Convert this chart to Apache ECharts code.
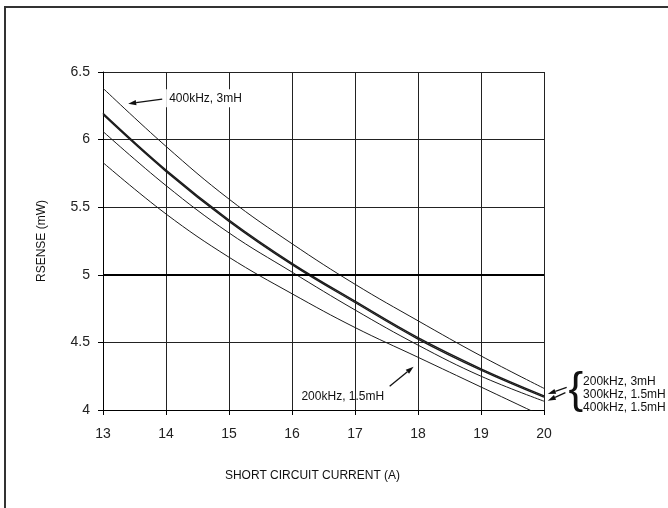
<!DOCTYPE html>
<html><head><meta charset="utf-8">
<script src="https://cdn.jsdelivr.net/npm/echarts@6/dist/echarts.min.js"></script>
<style>html,body{margin:0;padding:0;background:#fff}#c{width:668px;height:508px}</style>
</head><body><div id="c"></div>
<script>
// Data
const currents   = [13, 14, 15, 16, 17, 18, 19, 20];
const r400k3mH   = [6.38, 5.95, 5.56, 5.23, 4.93, 4.66, 4.40, 4.16];
const r200k3mH   = [6.195, 5.775, 5.405, 5.085, 4.805, 4.535, 4.305, 4.105];
const r300k15mH  = [6.185, 5.765, 5.395, 5.075, 4.795, 4.525, 4.295, 4.095];
const r400k15mH  = [6.06, 5.66, 5.31, 5.02, 4.74, 4.48, 4.25, 4.065];
const r200k15mH  = [5.83, 5.45, 5.13, 4.86, 4.61, 4.39, 4.17, 3.95];
const xTickLabels = ['13','14','15','16','17','18','19','20'];
const yTickLabels = ['4','4.5','5','5.5','6','6.5'];

const FONT = 'Liberation Sans, Arial, sans-serif';
const chart = echarts.init(document.getElementById('c'), null, {renderer:'canvas'});

function pairs(ys){ return currents.map((x,i)=>[x, ys[i]]); }
function mkSeries(name, ys, w, extra){
  return Object.assign({
    name, type:'line', data: pairs(ys), smooth: 0.4, symbol:'none', silent:true,
    lineStyle:{color:'#1a1a1a', width:w}, clip:true, z:3
  }, extra||{});
}

chart.setOption({
  animation:false,
  backgroundColor:'#fff',
  textStyle:{fontFamily:FONT},
  grid:{left:103, right:124, top:72, bottom:98, containLabel:false, outerBoundsMode:'none'},
  xAxis:{
    type:'value', min:13, max:20, interval:1,
    axisLine:{show:true, lineStyle:{color:'#000', width:1}},
    axisTick:{show:true, length:5, lineStyle:{color:'#000'}},
    axisLabel:{margin:17, fontSize:14, color:'#222', fontFamily:FONT,
      formatter:(v)=>xTickLabels[currents.indexOf(v)] ?? ''},
    splitLine:{show:true, lineStyle:{color:'#222', width:1}},
    name:'SHORT CIRCUIT CURRENT (A)', nameLocation:'middle', nameGap:60,
    nameTextStyle:{fontSize:12, color:'#111', fontFamily:FONT, padding:[0,22,0,0]}
  },
  yAxis:{
    type:'value', min:4, max:6.5, interval:0.5,
    axisLine:{show:true, lineStyle:{color:'#000', width:1}},
    axisTick:{show:true, length:5, lineStyle:{color:'#000'}},
    axisLabel:{margin:13, fontSize:14, color:'#222', fontFamily:FONT,
      formatter:(v)=>{const i=[4,4.5,5,5.5,6,6.5].indexOf(v); return i>=0?yTickLabels[i]:'';}},
    splitLine:{show:true, lineStyle:{color:'#222', width:1}},
    name:'RSENSE (mW)', nameLocation:'middle', nameGap:55,
    nameTextStyle:{fontSize:12, color:'#111', fontFamily:FONT}
  },
  series:[
    mkSeries('400kHz, 3mH', r400k3mH, 1, {
      markLine:{silent:true, symbol:'none', label:{show:false}, animation:false,
        lineStyle:{color:'#000', width:2, type:'solid'}, data:[{yAxis:5}]}
    }),
    mkSeries('200kHz, 3mH', r200k3mH, 1.4),
    mkSeries('300kHz, 1.5mH', r300k15mH, 1.4),
    mkSeries('400kHz, 1.5mH', r400k15mH, 1),
    mkSeries('200kHz, 1.5mH', r200k15mH, 1)
  ]
});

// Annotations positioned in data coordinates
function P(x,y){ return chart.convertToPixel({gridIndex:0}, [x,y]); }
function arrow(a, b){
  const p1=P(a[0],a[1]), p2=P(b[0],b[1]);
  const dx=p2[0]-p1[0], dy=p2[1]-p1[1], L=Math.hypot(dx,dy), ux=dx/L, uy=dy/L;
  const hl=8, hw=2.6;
  const bx=p2[0]-ux*hl, by=p2[1]-uy*hl;
  return [
    {type:'line', z:10, shape:{x1:p1[0],y1:p1[1],x2:bx,y2:by}, style:{stroke:'#111', lineWidth:1.3}},
    {type:'polygon', z:10, shape:{points:[[p2[0],p2[1]],[bx-uy*hw,by+ux*hw],[bx+uy*hw,by-ux*hw]]}, style:{fill:'#111'}}
  ];
}
function label(txt, x, y, bg){
  const p=P(x,y);
  const els=[];
  if(bg){
    els.push({type:'rect', z:9, shape:{x:p[0]-3, y:p[1]-9, width:bg, height:18}, style:{fill:'#fff'}});
  }
  els.push({type:'text', z:11, x:p[0], y:p[1], style:{text:txt, font:'12px '+FONT, fill:'#111', textVerticalAlign:'middle', textAlign:'left'}});
  return els;
}
let g=[];
g.push({type:'rect', z:20, shape:{x:5, y:7, width:900, height:700}, style:{fill:'none', stroke:'#333', lineWidth:2}});
g=g.concat(label('400kHz, 3mH', 14.05, 6.305, 82));
g=g.concat(arrow([13.94, 6.30],[13.40, 6.265]));
g=g.concat(label('200kHz, 1.5mH', 16.15, 4.095));
g=g.concat(arrow([17.55, 4.175],[17.93, 4.32]));
g=g.concat(arrow([20.36, 4.168],[20.06, 4.118]));
g=g.concat(arrow([20.34, 4.128],[20.06, 4.068]));
{
  const p=P(20.39, 4.145);
  g.push({type:'text', z:11, x:p[0], y:p[1], style:{text:'{', font:'44px '+FONT, fill:'#111', textVerticalAlign:'middle', textAlign:'left'}});
}
g=g.concat(label('200kHz, 3mH', 20.62, 4.21));
g=g.concat(label('300kHz, 1.5mH', 20.62, 4.11));
g=g.concat(label('400kHz, 1.5mH', 20.62, 4.015));
chart.setOption({graphic:g});
</script></body></html>
